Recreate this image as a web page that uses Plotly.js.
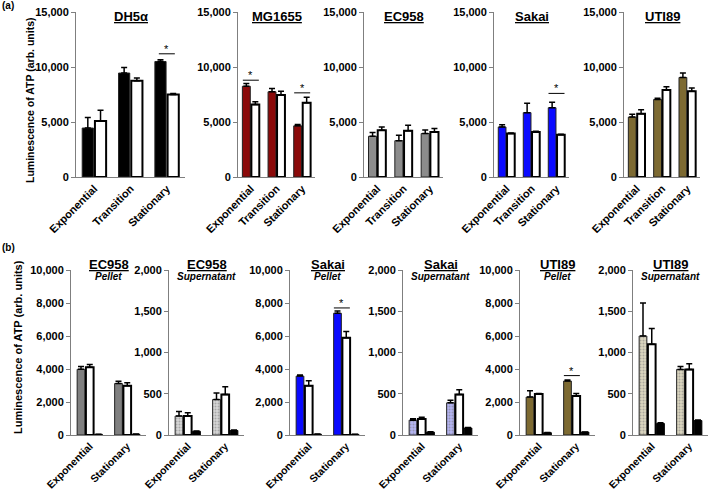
<!DOCTYPE html>
<html>
<head>
<meta charset="utf-8">
<script src="https://cdn.plot.ly/plotly-3.0.1.min.js"></script>
<style>
  body { margin: 0; background: #fff; }
  #chart { width: 709px; height: 490px; }
</style>
</head>
<body>
<div id="chart"></div>
<script>
// categories
const stages3 = ["Exponential", "Transition", "Stationary"];
const stages2 = ["Exponential", "Stationary"];

// (a) growth phases, 5 strains: filled bar + white bar (mean and upper error)
const topStrains = ["DH5α", "MG1655", "EC958", "Sakai", "UTI89"];
const topFilled = [[4450, 9450, 10500], [8250, 7750, 4650], [3700, 3300, 3950], [4550, 5850, 6300], [5450, 7050, 9050]];
const topFilledErr = [[950, 500, 150], [250, 300, 120], [350, 500, 320], [200, 850, 500], [250, 100, 400]];
const topWhite = [[5100, 8750, 7500], [6600, 7450, 6750], [4250, 4200, 4100], [3950, 4100, 3850], [5750, 7900, 7800]];
const topWhiteErr = [[970, 250, 80], [250, 350, 500], [300, 500, 300], [40, 60, 40], [370, 300, 300]];
const topSig = [[0, 2, 11200], [1, 0, 8800], [1, 2, 7650], [3, 2, 7600]]; // panel, category, line height

// (b) pellet / supernatant, 3 bars per phase
const bottomStrains = ["EC958", "EC958", "Sakai", "Sakai", "UTI89", "UTI89"];
const bottomFraction = ["Pellet", "Supernatant", "Pellet", "Supernatant", "Pellet", "Supernatant"];
const bottomFilled = [[3980, 3120], [230, 430], [3570, 7380], [180, 390], [2300, 3270], [1200, 795]];
const bottomFilledErr = [[170, 140], [55, 80], [70, 130], [18, 30], [380, 60], [400, 35]];
const bottomWhite = [[4100, 2990], [230, 490], [2990, 5900], [195, 490], [2480, 2360], [1100, 795]];
const bottomWhiteErr = [[170, 180], [40, 95], [300, 370], [20, 60], [40, 150], [190, 70]];
const bottomBlack = [[40, 50], [45, 55], [50, 40], [35, 85], [140, 180], [140, 175]];
const bottomBlackErr = [[5, 5], [5, 5], [5, 5], [5, 5], [8, 8], [8, 8]];
const bottomSig = [[2, 1, 7700], [4, 1, 3600]];

// styling
const topColors = ["#000000", "#8b0a0a", "#8c8c8c", "#0a0aff", "#7d6a32"];
const bottomColors = ["#808080", "#d6d6d6", "#0a0aff", "#b4b4f2", "#7d6a32", "#dcd6c0"];
const bottomHatched = [false, true, false, true, false, true];
const topXpx = [[76, 185], [238, 315], [364, 443], [494, 569], [624, 700]];
const bottomXpx = [[71, 146], [169, 244], [290, 365], [403, 478], [520, 595], [633, 708]];
const bottomMax = [10000, 2000, 10000, 2000, 10000, 2000];
const bottomStep = [2000, 500, 2000, 500, 2000, 500];

const W = 709, H = 490;
const FONT = "Arial, 'Liberation Sans', sans-serif";
const AXIS_GRAY = "#7f7f7f";

const traces = [];
const layout = {
  width: W, height: H,
  margin: { l: 0, r: 0, t: 0, b: 0 },
  paper_bgcolor: "white", plot_bgcolor: "white",
  showlegend: false,
  barmode: "group", bargap: 0.3, bargroupgap: 0.12,
  font: { family: FONT, color: "black" },
  annotations: [], shapes: []
};

function errUp(arr) {
  return { type: "data", symmetric: false, array: arr, arrayminus: arr.map(() => 0),
           color: "black", thickness: 1.5, width: 3 };
}

function addAxes(k, xpx, ytop, ybot, cats, ymax, dtick, xfont) {
  const tickfont = { family: FONT, size: 11, color: "black", weight: "bold" };
  layout["xaxis" + k] = {
    domain: [xpx[0] / W, xpx[1] / W], anchor: "y" + k, type: "category",
    range: [-0.5, cats.length - 0.5], showline: true, linecolor: AXIS_GRAY, linewidth: 1,
    ticks: "", tickangle: -45, tickfont: Object.assign({}, tickfont, { size: xfont }),
    showgrid: false, zeroline: false, fixedrange: true
  };
  const vals = [];
  for (let v = 0; v <= ymax; v += dtick) vals.push(v);
  layout["yaxis" + k] = {
    domain: [1 - ybot / H, 1 - ytop / H], anchor: "x" + k, range: [0, ymax],
    tickvals: vals, tickformat: ",d", showline: true, linecolor: AXIS_GRAY, linewidth: 1,
    ticks: "outside", ticklen: 4, tickcolor: AXIS_GRAY, tickfont: tickfont,
    showgrid: false, zeroline: false, fixedrange: true
  };
}

function addTitle(xpx, y, main, sub) {
  const cx = (xpx[0] + xpx[1]) / 2 / W;
  layout.annotations.push({
    xref: "paper", yref: "paper", x: cx, y: 1 - y / H, xanchor: "center", yanchor: "middle",
    text: "<b><u>" + main + "</u></b>", showarrow: false, font: { family: FONT, size: 13 }
  });
  if (sub) {
    layout.annotations.push({
      xref: "paper", yref: "paper", x: cx, y: 1 - (y + 12) / H, xanchor: "center", yanchor: "middle",
      text: "<b><i>" + sub + "</i></b>", showarrow: false, font: { family: FONT, size: 10 }
    });
  }
}

function addSig(k, xpos, yval) {
  layout.shapes.push({
    type: "line", xref: "x" + k, yref: "y" + k, xsizemode: "pixel", xanchor: xpos,
    x0: -8, x1: 8, y0: yval, y1: yval, line: { color: "black", width: 1 }
  });
  layout.annotations.push({
    xref: "x" + k, yref: "y" + k, x: xpos, y: yval, yanchor: "bottom", yshift: -3,
    text: "*", showarrow: false, font: { family: FONT, size: 11, color: "black" }
  });
}

// (a)
topStrains.forEach((name, i) => {
  const k = i + 1;
  addAxes(k, topXpx[i], 12, 177, stages3, 15000, 5000, 11);
  traces.push({
    type: "bar", x: stages3, y: topFilled[i], xaxis: "x" + k, yaxis: "y" + k,
    marker: { color: topColors[i], line: { color: "#222", width: 1 } },
    error_y: errUp(topFilledErr[i]), hoverinfo: "y"
  });
  traces.push({
    type: "bar", x: stages3, y: topWhite[i], xaxis: "x" + k, yaxis: "y" + k,
    marker: { color: "white", line: { color: "black", width: 2 } },
    error_y: errUp(topWhiteErr[i]), hoverinfo: "y"
  });
  addTitle(topXpx[i], 17, name);
});
topSig.forEach(s => addSig(s[0] + 1, s[1], s[2]));

// (b)
bottomStrains.forEach((name, i) => {
  const k = i + 6;
  addAxes(k, bottomXpx[i], 270, 435, stages2, bottomMax[i], bottomStep[i], 10.5);
  const mk = { color: bottomColors[i], line: { color: "#222", width: 1 } };
  if (bottomHatched[i]) {
    mk.pattern = { shape: ".", fillmode: "overlay", fgcolor: "#777", size: 3, solidity: 0.35 };
  }
  traces.push({
    type: "bar", x: stages2, y: bottomFilled[i], xaxis: "x" + k, yaxis: "y" + k,
    marker: mk, error_y: errUp(bottomFilledErr[i]), hoverinfo: "y"
  });
  traces.push({
    type: "bar", x: stages2, y: bottomWhite[i], xaxis: "x" + k, yaxis: "y" + k,
    marker: { color: "white", line: { color: "black", width: 2 } },
    error_y: errUp(bottomWhiteErr[i]), hoverinfo: "y"
  });
  traces.push({
    type: "bar", x: stages2, y: bottomBlack[i], xaxis: "x" + k, yaxis: "y" + k,
    marker: { color: "black", line: { color: "black", width: 1 } },
    error_y: errUp(bottomBlackErr[i]), hoverinfo: "y"
  });
  addTitle(bottomXpx[i], 264, name, bottomFraction[i]);
});
bottomSig.forEach(s => addSig(s[0] + 6, s[1] - 0.117, s[2]));

// y titles and panel letters
layout.annotations.push(
  { xref: "paper", yref: "paper", x: 30 / W, y: 1 - 100 / H, textangle: -90, showarrow: false,
    xanchor: "center", yanchor: "middle", text: "<b>Luminescence of ATP (arb. units)</b>",
    font: { family: FONT, size: 10.5 } },
  { xref: "paper", yref: "paper", x: 18 / W, y: 1 - 347 / H, textangle: -90, showarrow: false,
    xanchor: "center", yanchor: "middle", text: "<b>Luminescence of ATP (arb. units)</b>",
    font: { family: FONT, size: 11 } },
  { xref: "paper", yref: "paper", x: 0, y: 1 - 5 / H, xanchor: "left", yanchor: "middle",
    showarrow: false, text: "<b>(a)</b>", font: { family: FONT, size: 10 } },
  { xref: "paper", yref: "paper", x: 0, y: 1 - 247 / H, xanchor: "left", yanchor: "middle",
    showarrow: false, text: "<b>(b)</b>", font: { family: FONT, size: 10 } }
);

Plotly.newPlot("chart", traces, layout, { staticPlot: true, displayModeBar: false });
</script>
</body>
</html>
